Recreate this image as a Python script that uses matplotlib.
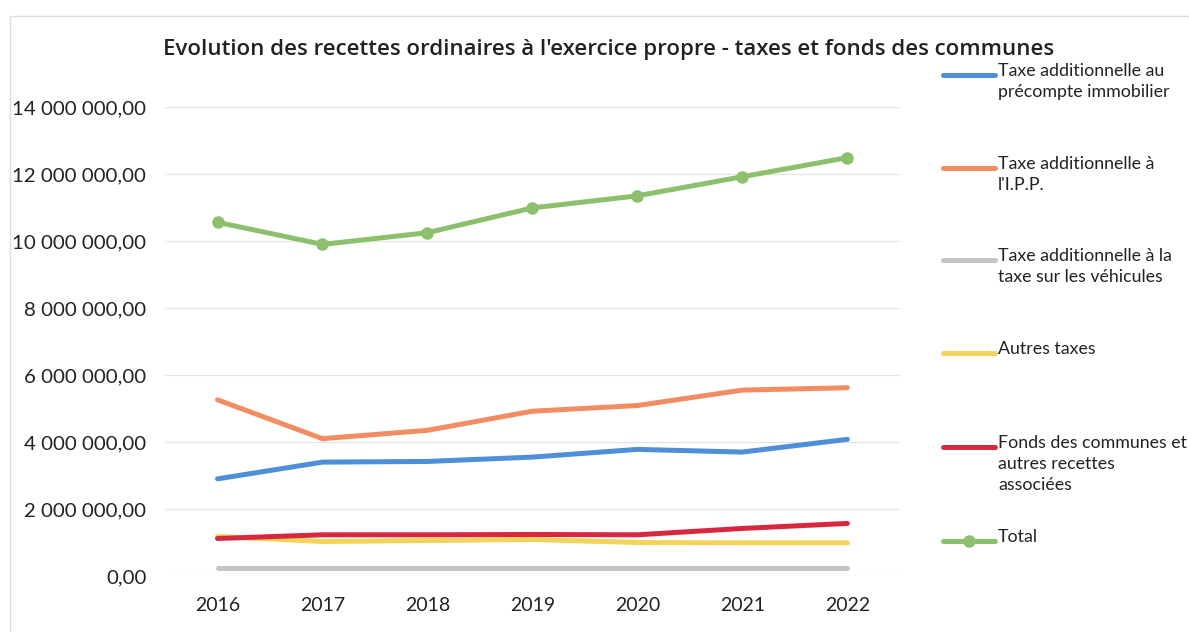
import matplotlib.pyplot as plt
from matplotlib.lines import Line2D
from matplotlib.patches import Rectangle
from matplotlib.ticker import FuncFormatter

plt.rcParams['font.family'] = ['Lato', 'DejaVu Sans']

years = ['2016', '2017', '2018', '2019', '2020', '2021', '2022']

precompte = [2.90e6, 3.40e6, 3.42e6, 3.55e6, 3.78e6, 3.70e6, 4.08e6]
ipp = [5.26e6, 4.10e6, 4.35e6, 4.92e6, 5.09e6, 5.55e6, 5.62e6]
vehicules = [0.25e6, 0.25e6, 0.25e6, 0.25e6, 0.25e6, 0.25e6, 0.25e6]
autres = [1.18e6, 1.03e6, 1.06e6, 1.09e6, 1.00e6, 0.99e6, 0.99e6]
fonds = [1.12e6, 1.23e6, 1.23e6, 1.24e6, 1.23e6, 1.42e6, 1.57e6]
total = [10.56e6, 9.90e6, 10.25e6, 10.99e6, 11.35e6, 11.92e6, 12.49e6]

labels = [
    'Taxe additionnelle au\nprécompte immobilier',
    'Taxe additionnelle à\nl\'I.P.P.',
    'Taxe additionnelle à la\ntaxe sur les véhicules',
    'Autres taxes',
    'Fonds des communes et\nautres recettes\nassociées',
    'Total',
]
colors = ['#4f8fd8', '#f28c62', '#c4c4c4', '#f3d35a', '#d8283f', '#8cc06c']
series = [precompte, ipp, vehicules, autres, fonds, total]

fig = plt.figure(figsize=(11.89, 6.32), dpi=100)
ax = fig.add_axes([0.1388, 0.0886, 0.618, 0.742])

x = range(len(years))
for vals, col, lab in zip(series, colors, labels):
    if lab == 'Total':
        ax.plot(x, vals, color=col, lw=3.6, marker='o', ms=8,
                solid_capstyle='round', zorder=3)
    else:
        ax.plot(x, vals, color=col, lw=3.6, solid_capstyle='round', zorder=2)

ax.set_xlim(-0.5, len(years) - 0.5)
ax.set_ylim(0, 14e6)
ax.set_yticks([i * 2e6 for i in range(8)])
ax.yaxis.set_major_formatter(FuncFormatter(
    lambda v, p: f'{v:,.2f}'.replace(',', ' ').replace('.', ',')))
ax.set_xticks(list(x))
ax.set_xticklabels(years)
ax.tick_params(axis='both', length=0, colors='#222222')
ax.tick_params(axis='x', pad=15, labelsize=14)
ax.tick_params(axis='y', pad=13.5, labelsize=14.7)
ax.grid(axis='y', color='#e4e4e4', lw=0.9)
ax.set_axisbelow(True)
for s in ax.spines.values():
    s.set_visible(False)

fig.text(0.512, 0.922, "Evolution des recettes ordinaires à l'exercice propre - taxes et fonds des communes",
         ha='center', va='center', fontsize=16, fontweight='semibold',
         family=['Open Sans', 'DejaVu Sans'], color='#222222')

# legend drawn by hand so the line sits beside the first text line
leg_y = [75, 168, 260, 353, 447, 541]
for yy, col, lab in zip(leg_y, colors, labels):
    fy = 1 - yy / 632
    fig.add_artist(Line2D([943 / 1189, 995 / 1189], [fy, fy], color=col, lw=3.6,
                          solid_capstyle='round'))
    if lab == 'Total':
        fig.add_artist(Line2D([969 / 1189], [fy], color=col, marker='o', ms=8))
    fig.text(998 / 1189, fy + 12 / 632, lab, ha='left', va='top', fontsize=12.8,
             color='#222222', linespacing=1.4)

fig.add_artist(Rectangle((10 / 1189, -0.01), 1.0, 0.985, transform=fig.transFigure,
                         fill=False, edgecolor='#dddddd', lw=1))

fig.savefig('out.png', dpi=100)
